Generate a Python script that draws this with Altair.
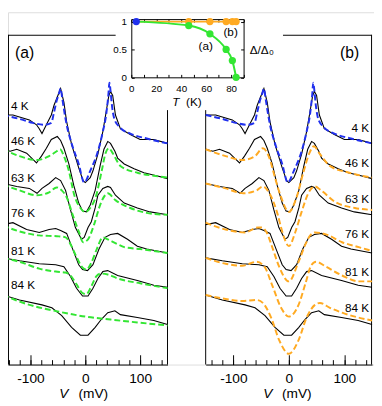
import altair as alt
import pandas as pd

FONT = "Liberation Sans"
GREEN = "#33e633"
ORANGE = "#ffaa22"
BLUE = "#2030ee"

temps = ["4 K", "46 K", "63 K", "76 K", "81 K", "84 K"]

# ---------- measured spectra (black), offset conductance, arb. units ----------
V_exp_4 = [-150, -132, -102, -89, -84, -79, -71, -62, -57, -50, -45, -39, -34, -25, -12, -4, 0, 9, 14, 23, 32, 38, 43, 46, 50, 55, 64, 82, 100, 125, 150]
G_exp_4 = [255, 255, 250, 245, 241, 236, 245, 255, 265, 275, 282, 268, 248, 225, 201, 188, 186, 191, 198, 215, 238, 258, 275, 279, 275, 255, 241, 235, 230, 230, 226]
V_exp_46 = [-150, -137, -125, -107, -96, -89, -80, -71, -62, -51, -45, -39, -30, -21, -12, -5, 2, 9, 18, 27, 34, 41, 46, 54, 59, 71, 89, 107, 130, 150]
G_exp_46 = [220, 218, 220, 216, 210, 206, 213, 221, 230, 233, 229, 221, 205, 183, 165, 157, 156, 163, 178, 203, 220, 228, 226, 218, 211, 205, 200, 196, 193, 190]
V_exp_63 = [-150, -125, -102, -88, -79, -66, -54, -45, -36, -27, -18, -7, -2, 5, 11, 18, 23, 32, 41, 46, 55, 71, 95, 118, 150]
G_exp_63 = [185, 182, 180, 175, 180, 185, 191, 188, 178, 158, 140, 128, 130, 140, 146, 160, 173, 180, 182, 181, 173, 165, 160, 156, 153]
V_exp_76 = [-150, -132, -107, -84, -66, -54, -45, -34, -23, -12, -5, 4, 14, 25, 36, 46, 59, 77, 95, 112, 150]
G_exp_76 = [143, 145, 138, 135, 138, 139, 137, 134, 118, 102, 97, 96, 102, 118, 130, 133, 134, 128, 121, 118, 114]
V_exp_81 = [-150, -120, -84, -54, -39, -27, -16, -5, 5, 14, 23, 32, 41, 59, 95, 125, 150]
G_exp_81 = [109, 106, 103, 102, 100, 90, 78, 70, 70, 78, 88, 95, 96, 91, 86, 81, 79]
V_exp_84 = [-150, -120, -79, -61, -43, -25, -9, 5, 18, 29, 41, 54, 64, 95, 125, 150]
G_exp_84 = [71, 66, 61, 58, 50, 38, 30, 30, 38, 46, 53, 55, 51, 48, 45, 41]

# ---------- 4 K fit (blue, both panels) ----------
V_fit_4 = [-150, -120, -96, -75, -62, -57, -52, -48, -45, -42, -39, -34, -25, -12, -2, 9, 23, 32, 38, 42, 44, 46, 48, 53, 62, 82, 112, 150]
G_fit_4 = [255, 251, 247, 245, 247, 258, 270, 277, 282, 272, 261, 245, 226, 205, 186, 198, 218, 238, 255, 275, 288, 280, 268, 251, 243, 236, 231, 226]

# ---------- fits of panel (a), green ----------
V_a_46 = [-150, -120, -89, -66, -52, -46, -39, -30, -20, -9, 0, 9, 20, 30, 37, 43, 50, 64, 95, 125, 150]
G_a_46 = [220, 213, 209, 213, 218, 220, 213, 198, 173, 160, 156, 160, 173, 198, 216, 221, 216, 203, 196, 193, 191]
V_a_63 = [-150, -120, -89, -66, -52, -43, -34, -23, -12, -4, 5, 16, 27, 36, 41, 55, 82, 112, 150]
G_a_63 = [184, 178, 173, 176, 181, 178, 171, 153, 136, 125, 128, 143, 163, 173, 175, 168, 160, 155, 153]
V_a_76 = [-150, -120, -84, -48, -36, -27, -16, -5, 2, 11, 21, 32, 41, 59, 71, 100, 150]
G_a_76 = [142, 136, 132, 131, 130, 123, 110, 99, 97, 104, 118, 130, 128, 123, 120, 118, 114]
V_a_81 = [-150, -120, -84, -54, -36, -27, -16, -5, 2, 11, 20, 29, 41, 59, 100, 150]
G_a_81 = [109, 105, 98, 95, 94, 91, 82, 73, 72, 80, 90, 93, 92, 88, 83, 78]
V_a_84 = [-150, -102, -48, 0, 46, 95, 150]
G_a_84 = [71, 61, 54, 49, 46, 43, 40]

# ---------- fits of panel (b), orange ----------
V_b_46 = [-150, -114, -84, -61, -47, -35, -26, -14, 0, 14, 26, 37, 45, 56, 74, 109, 150]
G_b_46 = [220, 213, 209, 213, 221, 211, 193, 171, 156, 171, 196, 216, 223, 215, 203, 196, 191]
V_b_63 = [-150, -114, -82, -58, -47, -35, -21, -12, 0, 12, 23, 35, 47, 58, 84, 119, 150]
G_b_63 = [185, 180, 175, 178, 182, 175, 155, 136, 121, 136, 156, 175, 182, 178, 166, 160, 158]
V_b_76 = [-150, -114, -79, -56, -49, -40, -30, -17.5, 0, 17.5, 30, 40, 47, 67, 96, 126, 150]
G_b_76 = [145, 138, 135, 140, 140, 135, 120, 100, 85, 105, 123, 133, 135, 133, 125, 120, 116]
V_b_81 = [-150, -114, -84, -58, -44, -30, -14, 0, 17.5, 30, 40, 49, 67, 96, 126, 150]
G_b_81 = [109, 103, 101, 105, 100, 81, 58, 49, 61, 83, 101, 105, 100, 91, 85, 85]
V_b_84 = [-150, -114, -84, -58, -47, -32, -17.5, 0, 17.5, 32, 47, 56, 74, 96, 126, 150]
G_b_84 = [71, 67, 65, 66, 63, 48, 25, 11, 25, 48, 61, 63, 58, 53, 48, 45]

# ---------- inset: gap vs temperature ----------
T_gap = [4, 46, 63, 76, 81, 84]
gap_a = [1.0, 0.93, 0.78, 0.50, 0.30, 0.0]
gap_b = [1.0, 1.0, 1.0, 1.0, 1.0, 1.0]

V_major = [-100, 0, 100]
V_minor = [-140, -120, -100, -80, -60, -40, -20, 0, 20, 40, 60, 80, 100, 120, 140]
T_ticks = [0, 10, 20, 30, 40, 50, 60, 70, 80, 90]
T_labels = [0, 20, 40, 60, 80]
gap_ticks = [0, 0.5, 1]


def long(series):
    rows = []
    for name, vs, gs in series:
        rows += [{"T": name, "V": v, "G": g} for v, g in zip(vs, gs)]
    return pd.DataFrame(rows)


exp_df = long([("4 K", V_exp_4, G_exp_4), ("46 K", V_exp_46, G_exp_46), ("63 K", V_exp_63, G_exp_63),
               ("76 K", V_exp_76, G_exp_76), ("81 K", V_exp_81, G_exp_81), ("84 K", V_exp_84, G_exp_84)])
fit4_df = long([("4 K", V_fit_4, G_fit_4)])
fita_df = long([("46 K", V_a_46, G_a_46), ("63 K", V_a_63, G_a_63), ("76 K", V_a_76, G_a_76),
                ("81 K", V_a_81, G_a_81), ("84 K", V_a_84, G_a_84)])
fitb_df = long([("46 K", V_b_46, G_b_46), ("63 K", V_b_63, G_b_63), ("76 K", V_b_76, G_b_76),
                ("81 K", V_b_81, G_b_81), ("84 K", V_b_84, G_b_84)])
gap_df = pd.DataFrame({"T": T_gap, "a": gap_a, "b": gap_b})

W, H = 374, 360
sc_a = alt.Scale(domain=[-141, 150], range=[0, 163], nice=False, zero=False)
sc_b = alt.Scale(domain=[-150, 150], range=[202, 372], nice=False, zero=False)
sc_y = alt.Scale(domain=[0, 360], range=[H, 0], nice=False, zero=False)
sc_T = alt.Scale(domain=[0, 90], range=[126, 240.75], nice=False, zero=False)
sc_g = alt.Scale(domain=[0, 1.045], range=[66.5, 7], nice=False, zero=False)

hy = "replace(datum.label, '\u2212', '-')"


def label_axis():
    return alt.Axis(orient="bottom", values=V_major, ticks=False, tickSize=0, domain=True, domainColor="black",
                    labels=True, labelFont=FONT, labelFontSize=14, labelColor="black", labelPadding=7,
                    labelFlush=False, labelExpr=hy, grid=False, title=None)


def tick_axis(vals, size):
    return alt.Axis(orient="top", offset=-H, values=vals, ticks=True, tickSize=size, tickColor="black",
                    domain=False, labels=False, grid=False, title=None)


def panel(sc, fit_df, fit_color):
    black = alt.Chart(exp_df).mark_line(color="black", strokeWidth=1.1).encode(
        x=alt.X("V:Q", scale=sc, axis=label_axis()),
        y=alt.Y("G:Q", scale=sc_y, axis=None),
        detail="T:N", order="V:Q")
    blue = alt.Chart(fit4_df).mark_line(color=BLUE, strokeWidth=2, strokeDash=[6, 3], interpolate="monotone").encode(
        x=alt.X("V:Q", scale=sc, axis=tick_axis(V_minor, 5)),
        y=alt.Y("G:Q", scale=sc_y, axis=None),
        detail="T:N", order="V:Q")
    fits = alt.Chart(fit_df).mark_line(color=fit_color, strokeWidth=2, strokeDash=[6, 3], interpolate="monotone").encode(
        x=alt.X("V:Q", scale=sc, axis=tick_axis(V_major, 10)),
        y=alt.Y("G:Q", scale=sc_y, axis=None),
        detail="T:N", order="V:Q")
    return [black, blue, fits]


# inset layers
in_orange_line = alt.Chart(gap_df).mark_line(color=ORANGE, strokeWidth=2).encode(
    x=alt.X("T:Q", scale=sc_T, axis=alt.Axis(orient="top", offset=-66.5, values=T_ticks, tickSize=3,
                                              tickColor="black", domain=False, labels=False, grid=False, title=None)),
    y=alt.Y("b:Q", scale=sc_g, axis=alt.Axis(orient="right", offset=126 - W, values=gap_ticks, tickSize=3,
                                              tickColor="black", domain=False, labels=False, grid=False, title=None)))
in_green_line = alt.Chart(gap_df).mark_line(color=GREEN, strokeWidth=2, interpolate="monotone").encode(
    x=alt.X("T:Q", scale=sc_T, axis=alt.Axis(orient="bottom", offset=66.5 - H, values=T_labels, ticks=False,
                                              tickSize=0, domain=True, domainColor="black", labelFont=FONT,
                                              labelFontSize=10, labelColor="black", labelPadding=6,
                                              labelFlush=False, grid=False, title=None)),
    y=alt.Y("a:Q", scale=sc_g, axis=alt.Axis(orient="left", offset=-126, values=gap_ticks, ticks=False,
                                              tickSize=0, domain=True, domainColor="black", labelFont=FONT,
                                              labelFontSize=10, labelColor="black", labelPadding=5,
                                              labelExpr="datum.value == 0.5 ? '0.5' : format(datum.value, 'd')",
                                              grid=False, title=None)))
pts = gap_df[gap_df["T"] > 4]
in_orange_pts = alt.Chart(pts).mark_circle(color=ORANGE, opacity=1, size=55).encode(
    x=alt.X("T:Q", scale=sc_T, axis=None), y=alt.Y("b:Q", scale=sc_g, axis=None))
in_green_pts = alt.Chart(pts).mark_circle(color=GREEN, opacity=1, size=55).encode(
    x=alt.X("T:Q", scale=sc_T, axis=alt.Axis(orient="bottom", offset=7 - H, values=T_ticks, tickSize=3,
                                              tickColor="black", domain=True, domainColor="black", labels=False,
                                              grid=False, title=None)),
    y=alt.Y("a:Q", scale=sc_g, axis=alt.Axis(orient="left", offset=-240.75, values=gap_ticks, tickSize=3,
                                              tickColor="black", domain=True, domainColor="black", labels=False,
                                              grid=False, title=None)))
in_blue_pt = alt.Chart(gap_df[gap_df["T"] == 4]).mark_circle(color=BLUE, opacity=1, size=55).encode(
    x=alt.X("T:Q", scale=sc_T, axis=None), y=alt.Y("a:Q", scale=sc_g, axis=None))

# frames of the two main panels
frames = pd.DataFrame({"x": [0.5, 0.5, 163, 202, 281, 371.5],
                       "x2": [0.5, 110, 163, 202, 371.5, 371.5],
                       "y": [23, 23.5, 100, 100, 23.5, 23],
                       "y2": [360, 23.5, 360, 360, 23.5, 360]})
frame_layer = alt.Chart(frames).mark_rule(color="black", strokeWidth=1).encode(
    x=alt.X("x:Q", scale=None), x2="x2:Q", y=alt.Y("y:Q", scale=None), y2="y2:Q")


def text_layer(df, **kw):
    return alt.Chart(df).mark_text(font=FONT, color="black", **kw).encode(
        x=alt.X("x:Q", scale=None), y=alt.Y("y:Q", scale=None), text="t:N")


lab_a = pd.DataFrame({"t": temps, "x": [3] * 6, "y": [96, 132, 169, 205, 244, 279]})
lab_b = pd.DataFrame({"t": temps, "x": [369] * 6, "y": [118, 154, 191, 227, 265, 302]})
panel_tags = pd.DataFrame({"t": ["(a)", "(b)"], "x": [17, 349], "y": [42, 42]})
inset_tags = pd.DataFrame({"t": ["(a)", "(b)"], "x": [202, 227.5], "y": [35, 20]})
v_italic = pd.DataFrame({"t": ["V", "V"], "x": [57, 265.5], "y": [390, 390]})
v_unit = pd.DataFrame({"t": ["(mV)", "(mV)"], "x": [72, 280], "y": [390, 390]})
t_italic = pd.DataFrame({"t": ["T"], "x": [171.5], "y": [91.5]})
t_unit = pd.DataFrame({"t": ["(K)"], "x": [182], "y": [91.5]})
delta = pd.DataFrame({"t": ["\u0394/\u0394"], "x": [247], "y": [39]})
delta_sub = pd.DataFrame({"t": ["0"], "x": [267], "y": [42]})

layers = [frame_layer] + panel(sc_a, fita_df, GREEN) + panel(sc_b, fitb_df, ORANGE) + [
    in_orange_line, in_green_line, in_orange_pts, in_green_pts, in_blue_pt,
    text_layer(lab_a, align="left", baseline="middle", fontSize=12),
    text_layer(lab_b, align="right", baseline="middle", fontSize=12),
    text_layer(panel_tags, align="center", baseline="middle", fontSize=16),
    text_layer(inset_tags, align="center", baseline="middle", fontSize=12),
    text_layer(v_italic, align="center", baseline="middle", fontSize=14, fontStyle="italic"),
    text_layer(v_unit, align="left", baseline="middle", fontSize=14),
    text_layer(t_italic, align="center", baseline="middle", fontSize=12, fontStyle="italic"),
    text_layer(t_unit, align="left", baseline="middle", fontSize=12),
    text_layer(delta, align="left", baseline="middle", fontSize=12),
    text_layer(delta_sub, align="left", baseline="middle", fontSize=8),
]

chart = alt.layer(*layers).resolve_scale(x="independent", y="independent").properties(
    width=W, height=H,
    autosize=alt.AutoSizeParams(type="none"),
    padding={"left": 0, "top": 0, "right": 0, "bottom": 38},
).configure_view(stroke=None).configure(background="white")

chart.save("out.html", embed_options={"renderer": "svg", "actions": False})
